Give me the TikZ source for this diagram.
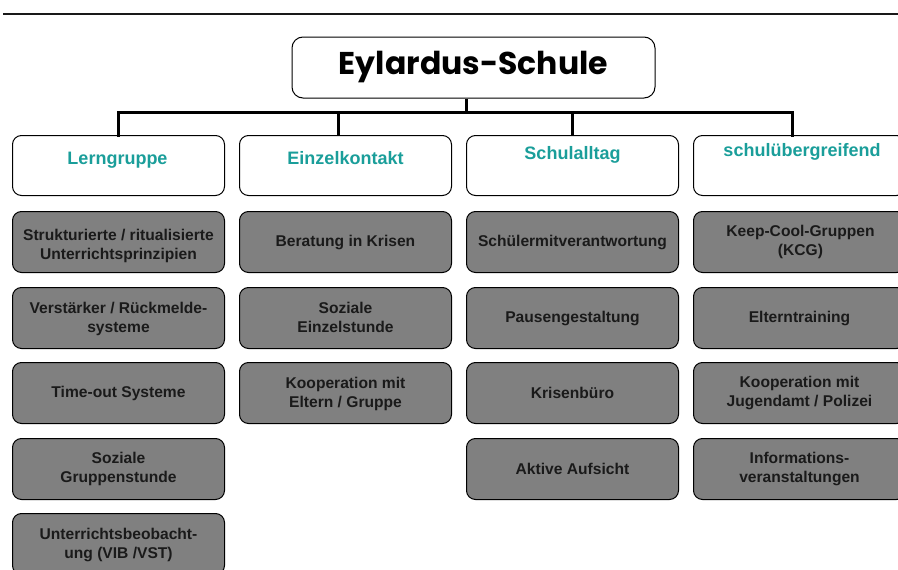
\documentclass[tikz,border=0pt]{standalone}
\usepackage{fontspec}
\setmainfont{Liberation Sans}
\newfontfamily\titlefont{Poppins}
\definecolor{teal1}{HTML}{1A9E9A}
\definecolor{boxgray}{HTML}{808080}
\definecolor{txt}{HTML}{1A1A1A}
\begin{document}
\begin{tikzpicture}[x=1pt,y=-1pt,
  hdr/.style={draw=black,line width=1pt,fill=white,rounded corners=9pt,minimum width=212pt,minimum height=60pt,anchor=north west,inner sep=0pt},
  hdrtxt/.style={text=teal1,font=\fontsize{18}{20}\selectfont\bfseries,inner sep=0pt},
  item/.style={draw=black,line width=1pt,fill=boxgray,rounded corners=9pt,minimum width=212pt,minimum height=61pt,anchor=north west,inner sep=0pt},
  itemtxt/.style={text=txt,font=\fontsize{15.6}{19}\selectfont\bfseries,align=center,inner sep=0pt},
  bar/.style={line width=3pt,line join=miter,line cap=rect}]
\useasboundingbox (0,0) rectangle (898,570);
\clip (0,0) rectangle (898,570);
\fill[white] (0,0) rectangle (898,570);
% top rule
\coordinate (rl) at (3,14);
\coordinate (rr) at (898,14);
\draw[line width=1.5pt,black!90] (rl) -- (rr);
% title
\node[draw=black,line width=1pt,fill=white,rounded corners=11pt,minimum width=363pt,minimum height=61pt,inner sep=0pt] (t) at (473.5,67.5) {\titlefont\bfseries\fontsize{31.5}{33}\selectfont Eylardus-Schule};
% headers
\node[hdr] (h1) at (12,135) {};
\node[hdr] (h2) at (239,135) {};
\node[hdr] (h3) at (466,135) {};
\node[hdr] (h4) at (693,135) {};
\node[hdrtxt] (h1t) at (117.5,160) {Lerngruppe};
\node[hdrtxt] (h2t) at (345.5,158) {Einzelkontakt};
\node[hdrtxt] (h3t) at (572.5,155) {Schulalltag};
\node[hdrtxt] (h4t) at (802,152) {schulübergreifend};
% connectors
\coordinate (b1) at (118,112);
\coordinate (b2) at (338,112);
\coordinate (b3) at (572,112);
\coordinate (b4) at (792,112);
\coordinate (ts) at (466,112);
\draw[bar] (h1.north -| b1) -- (b1) -- (b4) -- (h4.north -| b4);
\draw[line width=3pt] (b2) -- (h2.north -| b2);
\draw[line width=3pt] (b3) -- (h3.north -| b3);
\draw[line width=3pt] (t.south -| ts) -- (ts);
% column 1
\node[item] (a1) at (12,211) {};
\node[itemtxt] at ([yshift=-4pt]a1.center) {Strukturierte / ritualisierte\\Unterrichtsprinzipien};
\node[item] (a2) at (12,287) {};
\node[itemtxt] at ([yshift=-1pt]a2.center) {Verstärker / Rückmelde-\\systeme};
\node[item] (a3) at (12,362) {};
\node[itemtxt] at (a3.center) {Time-out Systeme};
\node[item] (a4) at (12,438) {};
\node[itemtxt] at (a4.center) {Soziale\\Gruppenstunde};
\node[item] (a5) at (12,513) {};
\node[itemtxt] at ([yshift=-1pt]a5.center) {Unterrichtsbeobacht-\\ung (VIB /VST)};
% column 2
\node[item] (b1n) at (239,211) {};
\node[itemtxt] at (b1n.center) {Beratung in Krisen};
\node[item] (b2n) at (239,287) {};
\node[itemtxt] at ([yshift=1pt]b2n.center) {Soziale\\Einzelstunde};
\node[item] (b3n) at (239,362) {};
\node[itemtxt] at ([yshift=-1pt]b3n.center) {Kooperation mit\\Eltern / Gruppe};
% column 3
\node[item] (c1) at (466,211) {};
\node[itemtxt] at (c1.center) {Schülermitverantwortung};
\node[item] (c2) at (466,287) {};
\node[itemtxt] at (c2.center) {Pausengestaltung};
\node[item] (c3) at (466,362) {};
\node[itemtxt] at (c3.center) {Krisenbüro};
\node[item] (c4) at (466,438) {};
\node[itemtxt] at (c4.center) {Aktive Aufsicht};
% column 4
\node[item] (d1) at (693,211) {};
\node[itemtxt] at ([xshift=1pt]d1.center) {Keep-Cool-Gruppen\\(KCG)};
\node[item] (d2) at (693,287) {};
\node[itemtxt] at (d2.center) {Elterntraining};
\node[item] (d3) at (693,362) {};
\node[itemtxt] at (d3.center) {Kooperation mit\\Jugendamt / Polizei};
\node[item] (d4) at (693,438) {};
\node[itemtxt] at (d4.center) {Informations-\\veranstaltungen};
\end{tikzpicture}
\end{document}
